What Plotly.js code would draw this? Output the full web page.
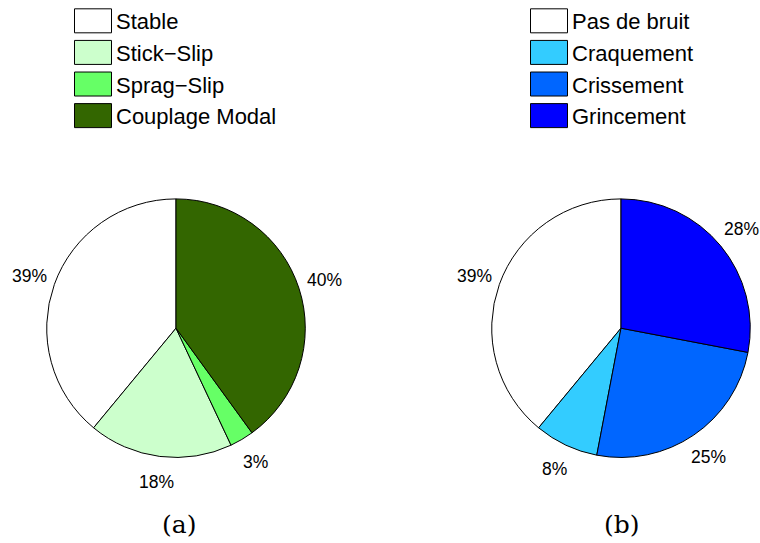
<!DOCTYPE html>
<html><head><meta charset="utf-8">
<script src="https://cdn.plot.ly/plotly-3.0.1.min.js"></script>
<style>body{margin:0;background:#fff}#c{width:760px;height:543px}</style>
</head><body><div id="c"></div>
<script>
const labelsA = ["Stable", "Stick\u2212Slip", "Sprag\u2212Slip", "Couplage Modal"];
const valuesA = [39, 18, 3, 40];
const colorsA = ["#ffffff", "#ccffcc", "#66ff66", "#336600"];
const labelsB = ["Pas de bruit", "Craquement", "Crissement", "Grincement"];
const valuesB = [39, 8, 25, 28];
const colorsB = ["#ffffff", "#33ccff", "#0066ff", "#0000ff"];
const captions = ["(a)", "(b)"];

const W = 760, H = 543;
const R = 130, CY = 327, CXA = 176, CXB = 621;
function dom(cx, cy, r) {
  return {x: [(cx - r) / W, (cx + r) / W], y: [1 - (cy + r) / H, 1 - (cy - r) / H]};
}
// first slice starts at 12 o'clock and slices run counterclockwise
function rot(vals) {
  const s = vals.reduce((a, b) => a + b, 0);
  return -360 * vals[0] / s;
}
// percent labels centred at 1.2 R on each slice's mid angle
function pctLabels(vals, cx) {
  const s = vals.reduce((a, b) => a + b, 0);
  let cum = 0;
  return vals.map(v => {
    const mid = (cum + v / 2) / s; cum += v;
    const th = -2 * Math.PI * mid;
    const x = cx + 1.2 * R * Math.sin(th), y = CY - 1.2 * R * Math.cos(th);
    return {text: Math.round(100 * v / s) + "%", x: x / W, y: 1 - y / H,
      xref: "paper", yref: "paper", xanchor: "center", yanchor: "middle", showarrow: false,
      font: {family: "Liberation Sans, Arial, sans-serif", size: 17.5, color: "#000"}};
  });
}
const common = {
  type: "pie", sort: false, direction: "counterclockwise",
  textinfo: "none", hoverinfo: "label+percent"
};
const traces = [
  Object.assign({}, common, {labels: labelsA, values: valuesA, rotation: rot(valuesA),
    marker: {colors: colorsA, line: {color: "#000", width: 1}},
    domain: dom(CXA, CY, R), legend: "legend"}),
  Object.assign({}, common, {labels: labelsB, values: valuesB, rotation: rot(valuesB),
    marker: {colors: colorsB, line: {color: "#000", width: 1}},
    domain: dom(CXB, CY, R), legend: "legend2"})
];
const legFont = {family: "Liberation Sans, Arial, sans-serif", size: 22, color: "#000"};
const layout = {
  width: W, height: H, margin: {l: 0, r: 0, t: 0, b: 0},
  paper_bgcolor: "#fff", showlegend: true,
  legend: {x: 70 / W, y: 1 + 3 / H, xanchor: "left", yanchor: "top", font: legFont,
    bgcolor: "rgba(0,0,0,0)", itemwidth: 36, tracegroupgap: 0},
  legend2: {x: 526 / W, y: 1 + 3 / H, xanchor: "left", yanchor: "top", font: legFont,
    bgcolor: "rgba(0,0,0,0)", itemwidth: 36, tracegroupgap: 0},
  annotations: captions.map((t, i) => ({
    text: t, x: (i === 0 ? 178.5 : 622) / W, y: 1 - 524 / H, xref: "paper", yref: "paper",
    xanchor: "center", yanchor: "middle",
    showarrow: false, font: {family: "DejaVu Serif, Liberation Serif, serif", size: 25, color: "#000"}
  })).concat(pctLabels(valuesA, CXA), pctLabels(valuesB, CXB))
};
Plotly.newPlot("c", traces, layout, {staticPlot: true}).then(() => {
  document.querySelectorAll("path.legendpie").forEach(p => {
    p.setAttribute("d", "M18.5,12H-18.5V-12H18.5Z");
    p.style.strokeWidth = "1px";
    p.style.stroke = "#000";
  });
});
</script></body></html>
